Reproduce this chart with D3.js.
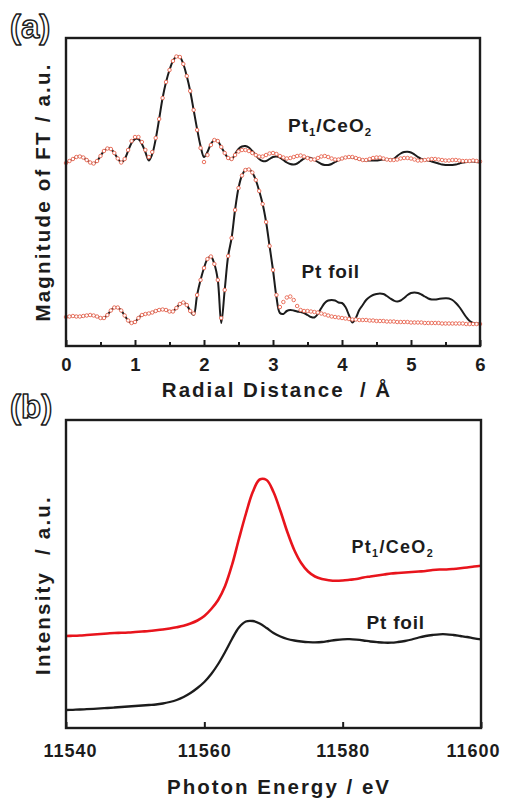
<!DOCTYPE html>
<html><head><meta charset="utf-8">
<script src="https://cdn.jsdelivr.net/npm/d3@7"></script>
<style>body{margin:0;background:#fff} svg{display:block} text{white-space:pre}</style>
</head><body>
<svg id="c" width="505" height="798"></svg>
<script>
// ---------- data ----------
// (a) FT-EXAFS, R grid 0..6 Å (0.05 step), magnitudes in a.u. (with vertical offset)
const rGrid = d3.range(121).map(i => Math.round(i * 5) / 100);
const ceo2Fit = [
1.83,1.85,1.87,1.89,1.895,1.885,1.86,1.835,1.825,1.85,
1.90,1.95,1.975,1.97,1.93,1.875,1.835,1.87,1.96,2.05,
2.09,2.09,2.04,1.96,1.89,1.94,2.08,2.27,2.48,2.64,
2.76,2.85,2.895,2.89,2.82,2.70,2.55,2.36,2.16,1.98,
1.84,1.91,2.01,2.06,2.05,1.99,1.93,1.88,1.87,1.91,
1.945,1.96,1.96,1.95,1.93,1.91,1.895,1.895,1.91,1.925,
1.93,1.92,1.90,1.885,1.875,1.88,1.89,1.90,1.905,1.895,
1.88,1.865,1.865,1.88,1.895,1.90,1.89,1.875,1.865,1.865,
1.875,1.885,1.89,1.89,1.88,1.87,1.86,1.86,1.87,1.88,
1.885,1.885,1.875,1.865,1.86,1.86,1.865,1.875,1.88,1.88,
1.875,1.865,1.855,1.855,1.86,1.865,1.87,1.87,1.865,1.86,
1.855,1.855,1.86,1.86,1.855,1.85,1.85,1.85,1.855,1.85,1.845];
const ceo2Exp = [
1.83,1.85,1.87,1.89,1.895,1.885,1.86,1.835,1.825,1.85,
1.90,1.95,1.975,1.97,1.93,1.875,1.835,1.87,1.95,2.03,
2.07,2.07,2.02,1.94,1.855,1.92,2.07,2.27,2.48,2.64,
2.76,2.85,2.895,2.89,2.82,2.70,2.55,2.36,2.17,2.00,
1.89,1.94,2.02,2.06,2.05,1.99,1.93,1.88,1.865,1.92,
1.97,1.995,2.00,1.985,1.95,1.91,1.87,1.85,1.85,1.87,
1.89,1.895,1.885,1.86,1.835,1.82,1.815,1.825,1.85,1.875,
1.885,1.88,1.86,1.84,1.82,1.81,1.81,1.82,1.84,1.86,
1.875,1.885,1.89,1.885,1.875,1.865,1.86,1.855,1.855,1.855,
1.855,1.86,1.865,1.865,1.865,1.87,1.90,1.925,1.94,1.943,
1.935,1.915,1.89,1.87,1.86,1.855,1.845,1.835,1.825,1.815,
1.81,1.81,1.81,1.815,1.825,1.835,1.84,1.845,1.845,1.84,1.835];
const foilFit = [
0.29,0.295,0.30,0.295,0.295,0.30,0.305,0.31,0.305,0.295,
0.28,0.28,0.31,0.355,0.385,0.385,0.355,0.305,0.255,0.23,
0.24,0.28,0.31,0.32,0.325,0.335,0.35,0.36,0.365,0.36,
0.345,0.345,0.38,0.42,0.435,0.41,0.35,0.325,0.51,0.66,
0.78,0.87,0.895,0.82,0.66,0.28,0.56,0.90,1.08,1.36,
1.58,1.705,1.76,1.765,1.735,1.66,1.55,1.42,1.24,1.00,
0.76,0.51,0.39,0.44,0.485,0.495,0.46,0.40,0.36,0.35,
0.35,0.345,0.34,0.335,0.325,0.315,0.305,0.295,0.29,0.285,
0.28,0.275,0.27,0.265,0.265,0.26,0.26,0.26,0.255,0.255,
0.25,0.25,0.25,0.245,0.245,0.245,0.24,0.24,0.24,0.24,
0.235,0.235,0.235,0.235,0.23,0.23,0.23,0.23,0.23,0.225,
0.225,0.225,0.225,0.225,0.225,0.225,0.22,0.22,0.22,0.22,0.22];
const foilExp = [
0.29,0.295,0.30,0.295,0.295,0.30,0.305,0.31,0.305,0.295,
0.28,0.28,0.31,0.355,0.385,0.385,0.355,0.305,0.255,0.23,
0.24,0.28,0.31,0.32,0.325,0.335,0.35,0.36,0.365,0.36,
0.345,0.345,0.38,0.42,0.435,0.41,0.35,0.31,0.51,0.66,
0.78,0.87,0.895,0.82,0.66,0.23,0.56,0.90,1.08,1.36,
1.58,1.705,1.76,1.765,1.735,1.66,1.55,1.42,1.24,1.00,
0.76,0.49,0.33,0.32,0.35,0.36,0.355,0.345,0.34,0.33,
0.31,0.29,0.285,0.32,0.38,0.43,0.455,0.46,0.455,0.435,
0.43,0.39,0.31,0.235,0.28,0.36,0.41,0.46,0.49,0.51,
0.52,0.525,0.52,0.50,0.475,0.455,0.445,0.455,0.48,0.51,
0.53,0.535,0.53,0.515,0.495,0.475,0.465,0.465,0.47,0.475,
0.477,0.475,0.46,0.43,0.39,0.34,0.29,0.25,0.23,0.225,0.225];
const rTicks = [0, 1, 2, 3, 4, 5, 6];
const rMinorTicks = [0.5, 1.5, 2.5, 3.5, 4.5, 5.5];

// (b) XANES, energy 11540..11600 eV (1 eV step)
const energy = d3.range(11540, 11601);
const xanesCeO2 = [
0.92,0.922,0.925,0.93,0.935,0.94,0.945,0.95,0.952,0.955,
0.96,0.965,0.97,0.977,0.985,0.995,1.007,1.022,1.045,1.075,
1.12,1.19,1.28,1.42,1.63,1.89,2.14,2.36,2.485,2.48,
2.36,2.17,1.96,1.78,1.65,1.565,1.515,1.49,1.478,1.472,
1.475,1.482,1.49,1.505,1.515,1.525,1.535,1.545,1.55,1.555,
1.56,1.565,1.57,1.58,1.585,1.585,1.59,1.597,1.605,1.615,1.623];
const xanesFoil = [
0.18,0.182,0.185,0.188,0.192,0.196,0.20,0.205,0.21,0.215,
0.22,0.225,0.23,0.235,0.245,0.26,0.28,0.31,0.35,0.40,
0.46,0.54,0.64,0.76,0.89,1.005,1.065,1.07,1.045,1.00,
0.95,0.915,0.89,0.875,0.865,0.858,0.857,0.86,0.87,0.88,
0.887,0.888,0.883,0.875,0.865,0.858,0.853,0.853,0.86,0.87,
0.885,0.905,0.92,0.93,0.937,0.937,0.93,0.92,0.91,0.897,0.887];
const eTicks = [11540, 11560, 11580, 11600];

// ---------- drawing ----------
const svg = d3.select("#c");
const FONT = "'Liberation Sans', Arial, Helvetica, sans-serif";
const INK = "#1c1c1c";
const RED = "#e8141c";
const DOT = "#e8644f";

function panelLabel(txt, x, y) {
  svg.append("text").attr("x", x).attr("y", y).text(txt)
    .attr("font-family", FONT).attr("font-weight", "bold").attr("font-size", 33)
    .attr("fill", "#fff").attr("stroke", INK).attr("stroke-width", 1.5).attr("stroke-linejoin", "round");
}

function seriesLabel(parts, x, y, size, weight, ls) {
  const t = svg.append("text").attr("x", x).attr("y", y).attr("font-family", FONT)
    .attr("font-size", size).attr("font-weight", weight).attr("fill", INK).attr("letter-spacing", ls);
  parts.forEach(p => {
    if (p.sub) {
      t.append("tspan").attr("font-size", size * 0.6).attr("dy", 4).text(p.t);
    } else {
      const ts = t.append("tspan").text(p.t);
      if (p.after) ts.attr("dy", -4);
    }
  });
}

// ===== Panel (a) =====
const A = {l: 66, r: 480, t: 38, b: 346};
const xA = d3.scaleLinear().domain([0, 6]).range([A.l, A.r]);
const yA = d3.scaleLinear().domain([0, 3.08]).range([A.b, A.t]);

const lineA = d3.line().x((d, i) => xA(rGrid[i])).y(d => yA(d)).curve(d3.curveCatmullRom.alpha(0.5));
[ceo2Exp, foilExp].forEach(s => {
  svg.append("path").attr("d", lineA(s)).attr("fill", "none").attr("stroke", INK).attr("stroke-width", 2);
});
[ceo2Fit, foilFit].forEach(s => {
  svg.append("g").selectAll("circle").data(s).join("circle")
    .attr("cx", (d, i) => xA(rGrid[i])).attr("cy", d => yA(d)).attr("r", 1.75)
    .attr("fill", "#fff").attr("stroke", DOT).attr("stroke-width", 0.9);
});

// ticks (inward)
const axA = svg.append("g").attr("transform", `translate(0,${A.b})`)
  .call(d3.axisBottom(xA).tickValues(rTicks).tickSize(-6).tickPadding(12).tickFormat(d3.format("d")));
axA.select(".domain").remove();
axA.selectAll("line").attr("stroke", INK).attr("stroke-width", 2);
axA.selectAll("text").attr("font-family", FONT).attr("font-weight", "bold").attr("font-size", 18.5).attr("fill", INK);
const axAm = svg.append("g").attr("transform", `translate(0,${A.b})`)
  .call(d3.axisBottom(xA).tickValues(rMinorTicks).tickSize(-4).tickFormat(""));
axAm.select(".domain").remove();
axAm.selectAll("line").attr("stroke", INK).attr("stroke-width", 2);

svg.append("rect").attr("x", A.l).attr("y", A.t).attr("width", A.r - A.l).attr("height", A.b - A.t)
  .attr("fill", "none").attr("stroke", INK).attr("stroke-width", 2.4);

svg.append("text").attr("x", 277).attr("y", 397).attr("text-anchor", "middle")
  .attr("font-family", FONT).attr("font-weight", "bold").attr("font-size", 20.5).attr("letter-spacing", 2).attr("fill", INK)
  .text("Radial Distance  / Å");
svg.append("text").attr("transform", "translate(50,192) rotate(-90)").attr("text-anchor", "middle")
  .attr("font-family", FONT).attr("font-weight", "bold").attr("font-size", 20.5).attr("letter-spacing", 2.2).attr("fill", INK)
  .text("Magnitude of FT / a.u.");

seriesLabel([{t: "Pt"}, {t: "1", sub: true}, {t: "/CeO", after: true}, {t: "2", sub: true}], 288, 131.5, 19, "bold", 1);
seriesLabel([{t: "Pt foil"}], 301.5, 278.3, 19, "bold", 0.8);

panelLabel("(a)", 10, 38);

// ===== Panel (b) =====
const B = {l: 66, r: 481, t: 420, b: 728};
const xB = d3.scaleLinear().domain([11540, 11600]).range([B.l, B.r]);
const yB = d3.scaleLinear().domain([0, 3.08]).range([B.b, B.t]);
const lineB = d3.line().x((d, i) => xB(energy[i])).y(d => yB(d)).curve(d3.curveCatmullRom.alpha(0.5));

svg.append("path").attr("d", lineB(xanesFoil)).attr("fill", "none").attr("stroke", INK).attr("stroke-width", 2.3);
svg.append("path").attr("d", lineB(xanesCeO2)).attr("fill", "none").attr("stroke", RED).attr("stroke-width", 2.6);

const axB = svg.append("g").attr("transform", `translate(0,${B.b})`)
  .call(d3.axisBottom(xB).tickValues(eTicks).tickSize(-6).tickPadding(16).tickFormat(d3.format("d")));
axB.select(".domain").remove();
axB.selectAll("line").attr("stroke", INK).attr("stroke-width", 2);
const eLabels = axB.selectAll("text").attr("font-family", FONT).attr("font-weight", "bold").attr("font-size", 18).attr("letter-spacing", 1).attr("fill", INK);
// keep the edge labels inside the picture, as in the original layout
eLabels.filter(d => d === eTicks[0]).attr("dx", 4);
eLabels.filter(d => d === eTicks[eTicks.length - 1]).attr("dx", -8);

svg.append("rect").attr("x", B.l).attr("y", B.t).attr("width", B.r - B.l).attr("height", B.b - B.t)
  .attr("fill", "none").attr("stroke", INK).attr("stroke-width", 2.4);

svg.append("text").attr("x", 279).attr("y", 794).attr("text-anchor", "middle")
  .attr("font-family", FONT).attr("font-weight", "bold").attr("font-size", 20.5).attr("letter-spacing", 2).attr("fill", INK)
  .text("Photon Energy / eV");
svg.append("text").attr("transform", "translate(50,585) rotate(-90)").attr("text-anchor", "middle")
  .attr("font-family", FONT).attr("font-weight", "bold").attr("font-size", 20.5).attr("letter-spacing", 2.2).attr("fill", INK)
  .text("Intensity  / a.u.");

seriesLabel([{t: "Pt"}, {t: "1", sub: true}, {t: "/CeO", after: true}, {t: "2", sub: true}], 351.5, 553.3, 18, "bold", 1.3);
seriesLabel([{t: "Pt foil"}], 366.5, 629, 19, "bold", 0.8);

panelLabel("(b)", 10, 418);
</script>
</body></html>
